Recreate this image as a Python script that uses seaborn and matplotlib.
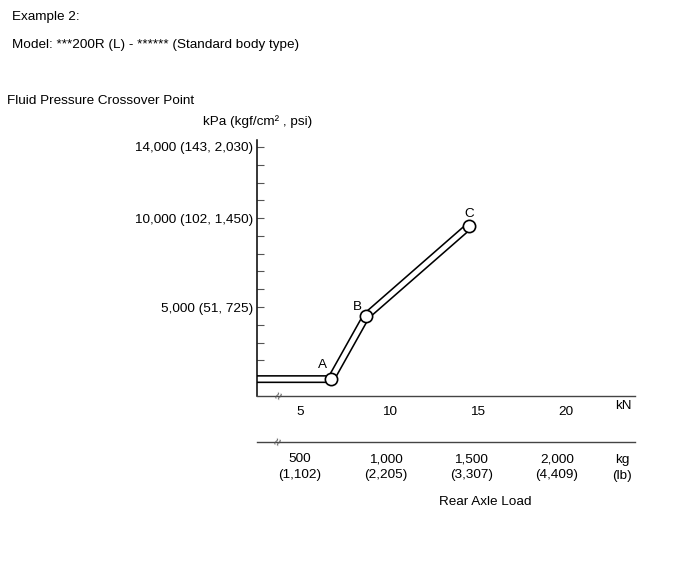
import numpy as np
import pandas as pd
import seaborn as sns
import matplotlib.pyplot as plt

sns.set_style('white')
plt.rcParams['font.family'] = ['Liberation Sans', 'DejaVu Sans']
plt.rcParams['text.color'] = 'black'
plt.rcParams['xtick.labelcolor'] = 'black'
plt.rcParams['ytick.labelcolor'] = 'black'

# crossover curve (rear axle load in kN vs fluid pressure in kPa)
point_names = ['', 'A', 'B', 'C']
load_kn = [2.0, 6.72, 8.72, 14.54]
pressure_kpa = [950, 950, 4500, 9560]

# axis ticks
kn_ticks = [5, 10, 15, 20]
kpa_major = [5000, 10000, 14000]
kpa_major_labels = ['5,000 (51, 725)', '10,000 (102, 1,450)', '14,000 (143, 2,030)']
kpa_minor = [1000, 2000, 3000, 4000, 6000, 7000, 8000, 9000, 11000, 12000, 13000]
kg_ticks = [500, 1000, 1500, 2000]
kg_labels = ['500\n(1,102)', '1,000\n(2,205)', '1,500\n(3,307)', '2,000\n(4,409)']

df = pd.DataFrame({'load': load_kn, 'pressure': pressure_kpa, 'name': point_names})

W, H = 691, 564
fig = plt.figure(figsize=(W / 100, H / 100), dpi=100)

def fx(px):
    return px / W

def fy(py):
    return 1 - py / H

fs = 9.7

# main chart
ax = fig.add_axes([fx(257), fy(396), fx(635) - fx(257), fy(140) - fy(396)])
ax.set_xlim(2.54, 23.9)
ax.set_ylim(0, 14390)

sns.lineplot(data=df, x='load', y='pressure', ax=ax, color='black', lw=5.8,
             sort=False, solid_joinstyle='miter', solid_capstyle='butt')
sns.lineplot(data=df, x='load', y='pressure', ax=ax, color='white', lw=3.5,
             sort=False, solid_joinstyle='miter', solid_capstyle='butt')
pts = df[df['name'] != '']
sns.scatterplot(data=pts, x='load', y='pressure', ax=ax, s=78, color='white',
                edgecolor='black', linewidth=1.2, zorder=5, legend=False)
# label offsets in points
offsets = {'A': (-5.8, 10), 'B': (-6.5, 6.5), 'C': (0, 8.6)}
for _, r in pts.iterrows():
    ax.annotate(r['name'], (r['load'], r['pressure']), xytext=offsets[r['name']],
                textcoords='offset points', ha='center', va='center', fontsize=fs)

for s in ['top', 'right']:
    ax.spines[s].set_visible(False)
ax.spines['left'].set_color('black')
ax.spines['left'].set_linewidth(1.1)
ax.spines['bottom'].set_color('#444444')
ax.spines['bottom'].set_linewidth(1.0)

ax.set_xticks(kn_ticks)
ax.set_xticklabels([str(t) for t in kn_ticks], fontsize=fs)
ax.tick_params(axis='x', direction='in', length=6, width=0.8, color='#666666', pad=7)
ax.set_yticks(kpa_major)
ax.set_yticklabels(kpa_major_labels, fontsize=fs)
ax.set_yticks(kpa_minor, minor=True)
ax.tick_params(axis='y', which='both', direction='in', length=5, width=0.8,
               color='#555555', pad=3, left=True)
ax.set_xlabel('')
ax.set_ylabel('')
ax.text(3.8, 0, '≈', rotation=65, fontsize=10, color='#555555', ha='center', va='center',
        clip_on=False)

# second load axis in kg
ax2 = fig.add_axes([fx(257), fy(442), fx(635) - fx(257), 0.001])
ax2.set_xlim(249, 2455)
for s in ['top', 'right', 'left']:
    ax2.spines[s].set_visible(False)
ax2.spines['bottom'].set_color('#444444')
ax2.spines['bottom'].set_linewidth(1.0)
ax2.set_yticks([])
ax2.set_xticks(kg_ticks)
ax2.set_xticklabels(kg_labels, fontsize=fs, linespacing=1.45)
ax2.tick_params(axis='x', direction='in', length=6, width=0.8, color='#666666', pad=8)
ax2.patch.set_visible(False)
ax2.text(375, 0, '≈', rotation=65, fontsize=10, color='#555555', ha='center', va='center',
         transform=ax2.transData, clip_on=False)

# texts
fig.text(fx(12), fy(17), 'Example 2:', fontsize=fs, va='center')
fig.text(fx(12), fy(45), 'Model: ***200R (L) - ****** (Standard body type)', fontsize=fs, va='center')
fig.text(fx(7), fy(101), 'Fluid Pressure Crossover Point', fontsize=fs, va='center')
fig.text(fx(203), fy(122), 'kPa (kgf/cm² , psi)', fontsize=fs, va='center')
fig.text(fx(623), fy(406), 'kN', fontsize=fs, ha='center', va='center')
fig.text(fx(622), fy(468), 'kg\n(lb)', fontsize=fs, ha='center', va='center', linespacing=1.45)
fig.text(fx(485), fy(502), 'Rear Axle Load', fontsize=fs, ha='center', va='center')

fig.savefig('out.png', dpi=100)
